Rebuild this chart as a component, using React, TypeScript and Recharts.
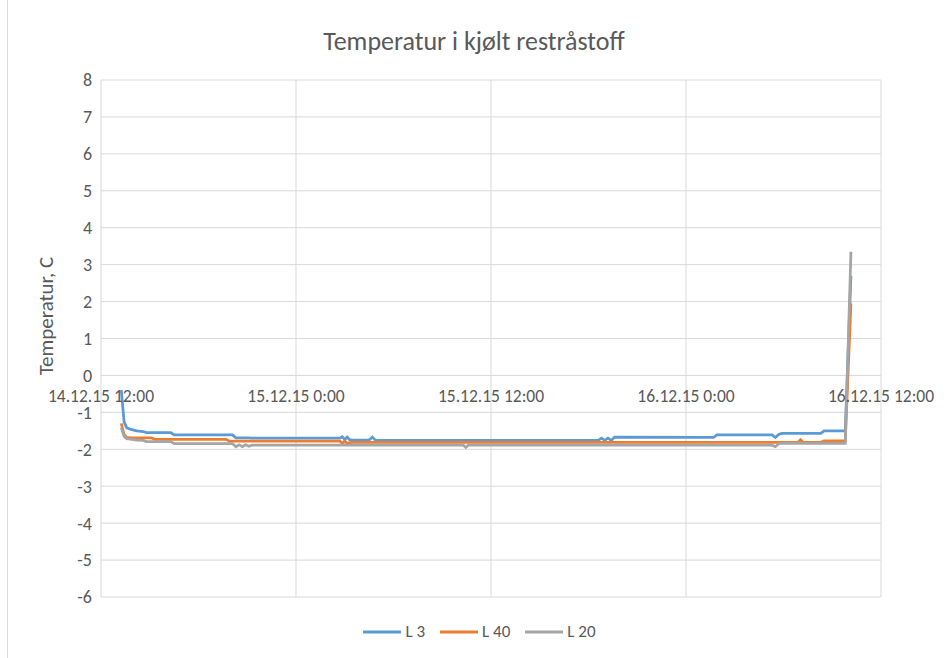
import React from 'react';
import { LineChart, Line, XAxis, YAxis, CartesianGrid, Legend } from 'recharts';

// hours since 14.12.15 12:00
const hours = [1.25, 1.42, 1.58, 1.9, 2.2, 2.6, 2.8, 3.1, 3.3, 4.3, 4.5, 7.7, 7.9, 8.1, 8.3, 8.5, 8.7, 8.9, 9.1, 9.3, 14.7, 14.85, 15.0, 15.15, 15.3, 15.5, 16.5, 16.7, 16.9, 22.3, 22.45, 22.6, 30.6, 30.8, 31.0, 31.2, 31.4, 31.6, 37.7, 37.9, 41.3, 41.5, 41.7, 41.9, 42.9, 43.05, 43.2, 44.3, 44.5, 45.8, 46.15];
const l3 = [-0.4, -1.25, -1.42, -1.47, -1.5, -1.52, -1.55, -1.55, -1.55, -1.55, -1.61, -1.61, -1.61, -1.61, -1.69, -1.69, -1.69, -1.69, -1.69, -1.7, -1.7, -1.66, -1.74, -1.67, -1.74, -1.75, -1.75, -1.67, -1.76, -1.76, -1.76, -1.76, -1.76, -1.7, -1.76, -1.7, -1.76, -1.67, -1.68, -1.61, -1.61, -1.68, -1.6, -1.57, -1.57, -1.57, -1.57, -1.57, -1.5, -1.5, 2.7];
const l40 = [-1.3, -1.6, -1.68, -1.69, -1.69, -1.69, -1.69, -1.69, -1.73, -1.73, -1.73, -1.73, -1.78, -1.78, -1.78, -1.78, -1.78, -1.78, -1.78, -1.78, -1.78, -1.84, -1.78, -1.84, -1.82, -1.81, -1.81, -1.81, -1.81, -1.81, -1.81, -1.81, -1.81, -1.81, -1.81, -1.81, -1.81, -1.81, -1.81, -1.81, -1.81, -1.81, -1.81, -1.81, -1.81, -1.74, -1.81, -1.81, -1.77, -1.77, 1.95];
const l20 = [-1.41, -1.65, -1.71, -1.73, -1.75, -1.76, -1.79, -1.79, -1.79, -1.79, -1.85, -1.85, -1.85, -1.85, -1.93, -1.88, -1.93, -1.88, -1.92, -1.89, -1.89, -1.89, -1.89, -1.89, -1.89, -1.89, -1.89, -1.89, -1.89, -1.89, -1.95, -1.89, -1.89, -1.89, -1.89, -1.89, -1.89, -1.89, -1.89, -1.89, -1.89, -1.93, -1.85, -1.84, -1.84, -1.84, -1.84, -1.84, -1.84, -1.84, 3.35];

const xTicks = [0, 12, 24, 36, 48];
const xTickLabels = ['14.12.15 12:00', '15.12.15 0:00', '15.12.15 12:00', '16.12.15 0:00', '16.12.15 12:00'];
const yTicks = [-6, -5, -4, -3, -2, -1, 0, 1, 2, 3, 4, 5, 6, 7, 8];
const seriesKeys = ['l3', 'l40', 'l20'];
const seriesNames = ['L 3', 'L 40', 'L 20'];
const seriesColors = ['#5B9BD5', '#ED7D31', '#A5A5A5'];
const title = 'Temperatur i kjølt restråstoff';
const yTitle = 'Temperatur, C';

const data = hours.map((h, i) => ({ h, l3: l3[i], l40: l40[i], l20: l20[i] }));

const FONT = "Carlito, Lato, 'Open Sans', sans-serif";
const TEXT = '#595959';
const W = 946;
const H = 658;
const M = { top: 80, right: 65, bottom: 31, left: 31 };
const Y_AXIS_W = 70;
const X_AXIS_H = 30;
const PLOT_TOP = M.top;
const PLOT_H = H - M.top - M.bottom - X_AXIS_H;
const Y_MIN = yTicks[0];
const Y_MAX = yTicks[yTicks.length - 1];
const zeroY = PLOT_TOP + ((Y_MAX - 0) / (Y_MAX - Y_MIN)) * PLOT_H;

const XTick = (props: any) => {
  const { x, payload } = props;
  const idx = xTicks.indexOf(payload.value);
  return (
    <text x={x} y={zeroY + 27} textAnchor="middle" fill={TEXT} fontSize={17.5} fontFamily={FONT}>
      {xTickLabels[idx]}
    </text>
  );
};

const LegendContent = () => (
  <div style={{ display: 'flex', justifyContent: 'center', alignItems: 'center', fontFamily: FONT, fontSize: 17, color: TEXT }}>
    {seriesNames.map((n, i) => (
      <div key={n} style={{ display: 'flex', alignItems: 'center', marginRight: 15 }}>
        <svg width={38} height={10} style={{ marginRight: 4 }}>
          <line x1={0} y1={5} x2={38} y2={5} stroke={seriesColors[i]} strokeWidth={3} />
        </svg>
        <span>{n}</span>
      </div>
    ))}
  </div>
);

export default function App() {
  return (
    <div style={{ position: 'absolute', left: 0, top: 0, width: W, height: H, background: '#fff', overflow: 'hidden' }}>
      <div style={{ position: 'absolute', left: 7, top: 0, width: 1, height: H, background: '#d9d9d9' }} />
      <div style={{ position: 'absolute', left: 0, top: 26, width: 948, textAlign: 'center', fontFamily: FONT, fontSize: 26, color: TEXT, lineHeight: '30px' }}>
        {title}
      </div>
      <div style={{ position: 'absolute', left: 46, top: 316, transform: 'translate(-50%, -50%) rotate(-90deg)', whiteSpace: 'nowrap', fontFamily: FONT, fontSize: 21, color: TEXT }}>
        {yTitle}
      </div>
      <div style={{ position: 'absolute', left: 0, top: 0 }}>
        <LineChart width={W} height={H} data={data} margin={M}>
          <CartesianGrid stroke="#d9d9d9" strokeWidth={1} vertical={true} horizontal={true} />
          <XAxis
            dataKey="h"
            type="number"
            domain={[xTicks[0], xTicks[xTicks.length - 1]]}
            ticks={xTicks}
            height={X_AXIS_H}
            axisLine={false}
            tickLine={false}
            tick={<XTick />}
            interval={0}
          />
          <YAxis
            domain={[Y_MIN, Y_MAX]}
            ticks={yTicks}
            width={Y_AXIS_W}
            axisLine={false}
            tickLine={false}
            tickSize={0}
            tickMargin={9}
            interval={0}
            tick={{ fill: TEXT, fontSize: 18, fontFamily: FONT }}
          />
          {seriesKeys.map((k, i) => (
            <Line
              key={k}
              dataKey={k}
              name={seriesNames[i]}
              stroke={seriesColors[i]}
              strokeWidth={2.75}
              dot={false}
              type="linear"
              isAnimationActive={false}
            />
          ))}
          <Legend layout="horizontal" verticalAlign="middle" align="center" content={<LegendContent />} wrapperStyle={{ top: 621, left: 14, width: W }} />
        </LineChart>
      </div>
    </div>
  );
}
